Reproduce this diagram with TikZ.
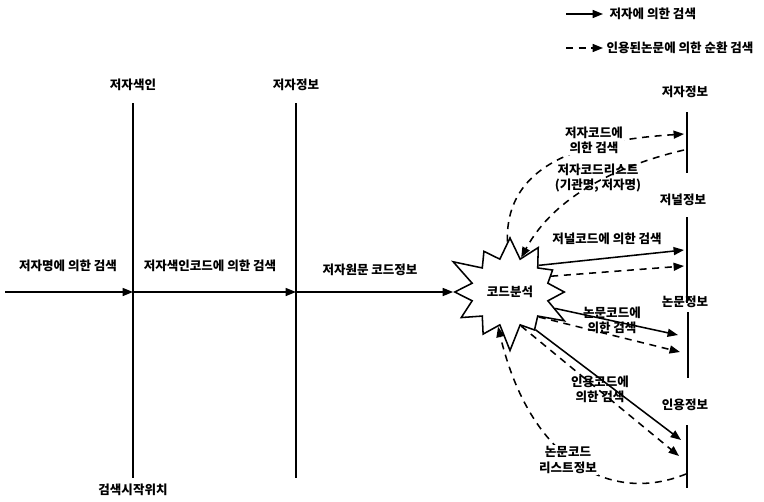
\documentclass[tikz,border=0pt]{standalone}
\usepackage{fontspec}
\setmainfont{Noto Sans CJK KR}
\usetikzlibrary{arrows.meta, shapes.symbols}

\begin{document}
\begin{tikzpicture}[
  x=0.025cm, y=-0.025cm,
  font=\fontsize{8.9}{10.8}\selectfont\bfseries,
  lbl/.style={align=center, inner sep=1pt},
  cover/.style={lbl, fill=white},
  bar/.style={line width=1.2pt},
  arrow/.style={-{Triangle[length=2.6mm,width=2mm]}, line width=1.1pt},
  dasharrow/.style={-{Triangle[length=2.6mm,width=2mm]}, line width=1.1pt, dash pattern=on 5pt off 4pt},
  burst/.style={draw, line width=1.1pt, fill=white, starburst, starburst points=12, starburst point height=0.7cm, minimum width=3.3cm, minimum height=3.1cm}
]
\useasboundingbox (0,0) rectangle (764,501);

% legend
\coordinate (lg1a) at (566,14);
\coordinate (lg1b) at (603,14);
\coordinate (lg2a) at (566,48);
\coordinate (lg2b) at (603,48);
\draw[arrow] (lg1a) -- (lg1b);
\draw[dasharrow] (lg2a) -- (lg2b);
\node[lbl, anchor=west] (lgt1) at (608,14) {저자에 의한 검색};
\node[lbl, anchor=west] (lgt2) at (605,48) {인용된논문에 의한 순환 검색};

% left vertical bars
\coordinate (v1t) at (133,103);
\coordinate (v1b) at (133,478);
\coordinate (v2t) at (296,103);
\coordinate (v2b) at (296,478);
\draw[bar] (v1t) -- (v1b);
\draw[bar] (v2t) -- (v2b);
\node[lbl] (idx) at (133,85) {저자색인};
\node[lbl] (auth) at (296,85) {저자정보};
\node[lbl] (begin) at (133,490) {검색시작위치};

% code analysis
\node[burst] (code) at (510,292) {코드분석};

% main search line
\coordinate (start) at (5,292);
\coordinate (v1m) at (133,292);
\coordinate (v2m) at (296,292);
\draw[arrow] (start) -- (v1m);
\draw[arrow] (v1m) -- (v2m);
\draw[arrow] (v2m) -- (code.180);
\node[lbl] (byname) at (68,266) {저자명에 의한 검색};
\node[lbl] (byidx) at (210,266) {저자색인코드에 의한 검색};
\node[lbl] (bysrc) at (370,270) {저자원문 코드정보};

% right bars
\coordinate (r1t) at (687,112);
\coordinate (r1b) at (687,173);
\coordinate (r2t) at (687,217);
\coordinate (r2b) at (687,303);
\coordinate (r3t) at (688,312);
\coordinate (r3b) at (688,378);
\coordinate (r4t) at (687,425);
\coordinate (r4b) at (687,488);
\draw[bar] (r1t) -- (r1b);
\draw[bar] (r2t) -- (r2b);
\draw[bar] (r3t) -- (r3b);
\draw[bar] (r4t) -- (r4b);
\node[lbl] (ainfo) at (685,92) {저자정보};
\node[lbl] (jinfo) at (683,200) {저널정보};
\node[lbl] (pinfo) at (685,302) {논문정보};
\node[lbl] (cinfo) at (685,405) {인용정보};

% arrow ends on the right bars
\coordinate (a1) at (684,134);
\coordinate (a1s) at (684,150);
\coordinate (a2) at (684,250);
\coordinate (a2d) at (684,266);
\coordinate (a3) at (678,335);
\coordinate (a3d) at (680,352);
\coordinate (a4) at (681,440);
\coordinate (a4d) at (679,456);
\coordinate (a4s) at (686,474);

% search arrows
\draw[dasharrow] (code.93) .. controls (505,160) and (590,140) .. (a1);
\draw[dasharrow] (a1s) .. controls (620,165) and (555,195) .. (code.72);
\draw[arrow] (code.43) -- (a2);
\draw[dasharrow] (code.21) -- (a2d);
\draw[arrow] (code.-20) -- (a3);
\draw[dasharrow] (code.-41) -- (a3d);
\draw[arrow] (code.-56) -- (a4);
\draw[dasharrow] (code.-72) -- (a4d);
\draw[dasharrow] (a4s) .. controls (610,505) and (530,460) .. (code.-109);

% arrow labels
\node[cover] (byacode) at (594,140) {저자코드에\\의한 검색};
\node[lbl] (alist) at (598,178) {저자코드리스트\\(기관명, 저자명)};
\node[lbl] (byjcode) at (607,239) {저널코드에 의한 검색};
\node[lbl] (bypcode) at (612,320) {논문코드에\\의한 검색};
\node[lbl] (byccode) at (600,389) {인용코드에\\의한 검색};
\node[cover] (plist) at (568,460) {논문코드\\리스트정보};
\end{tikzpicture}
\end{document}
